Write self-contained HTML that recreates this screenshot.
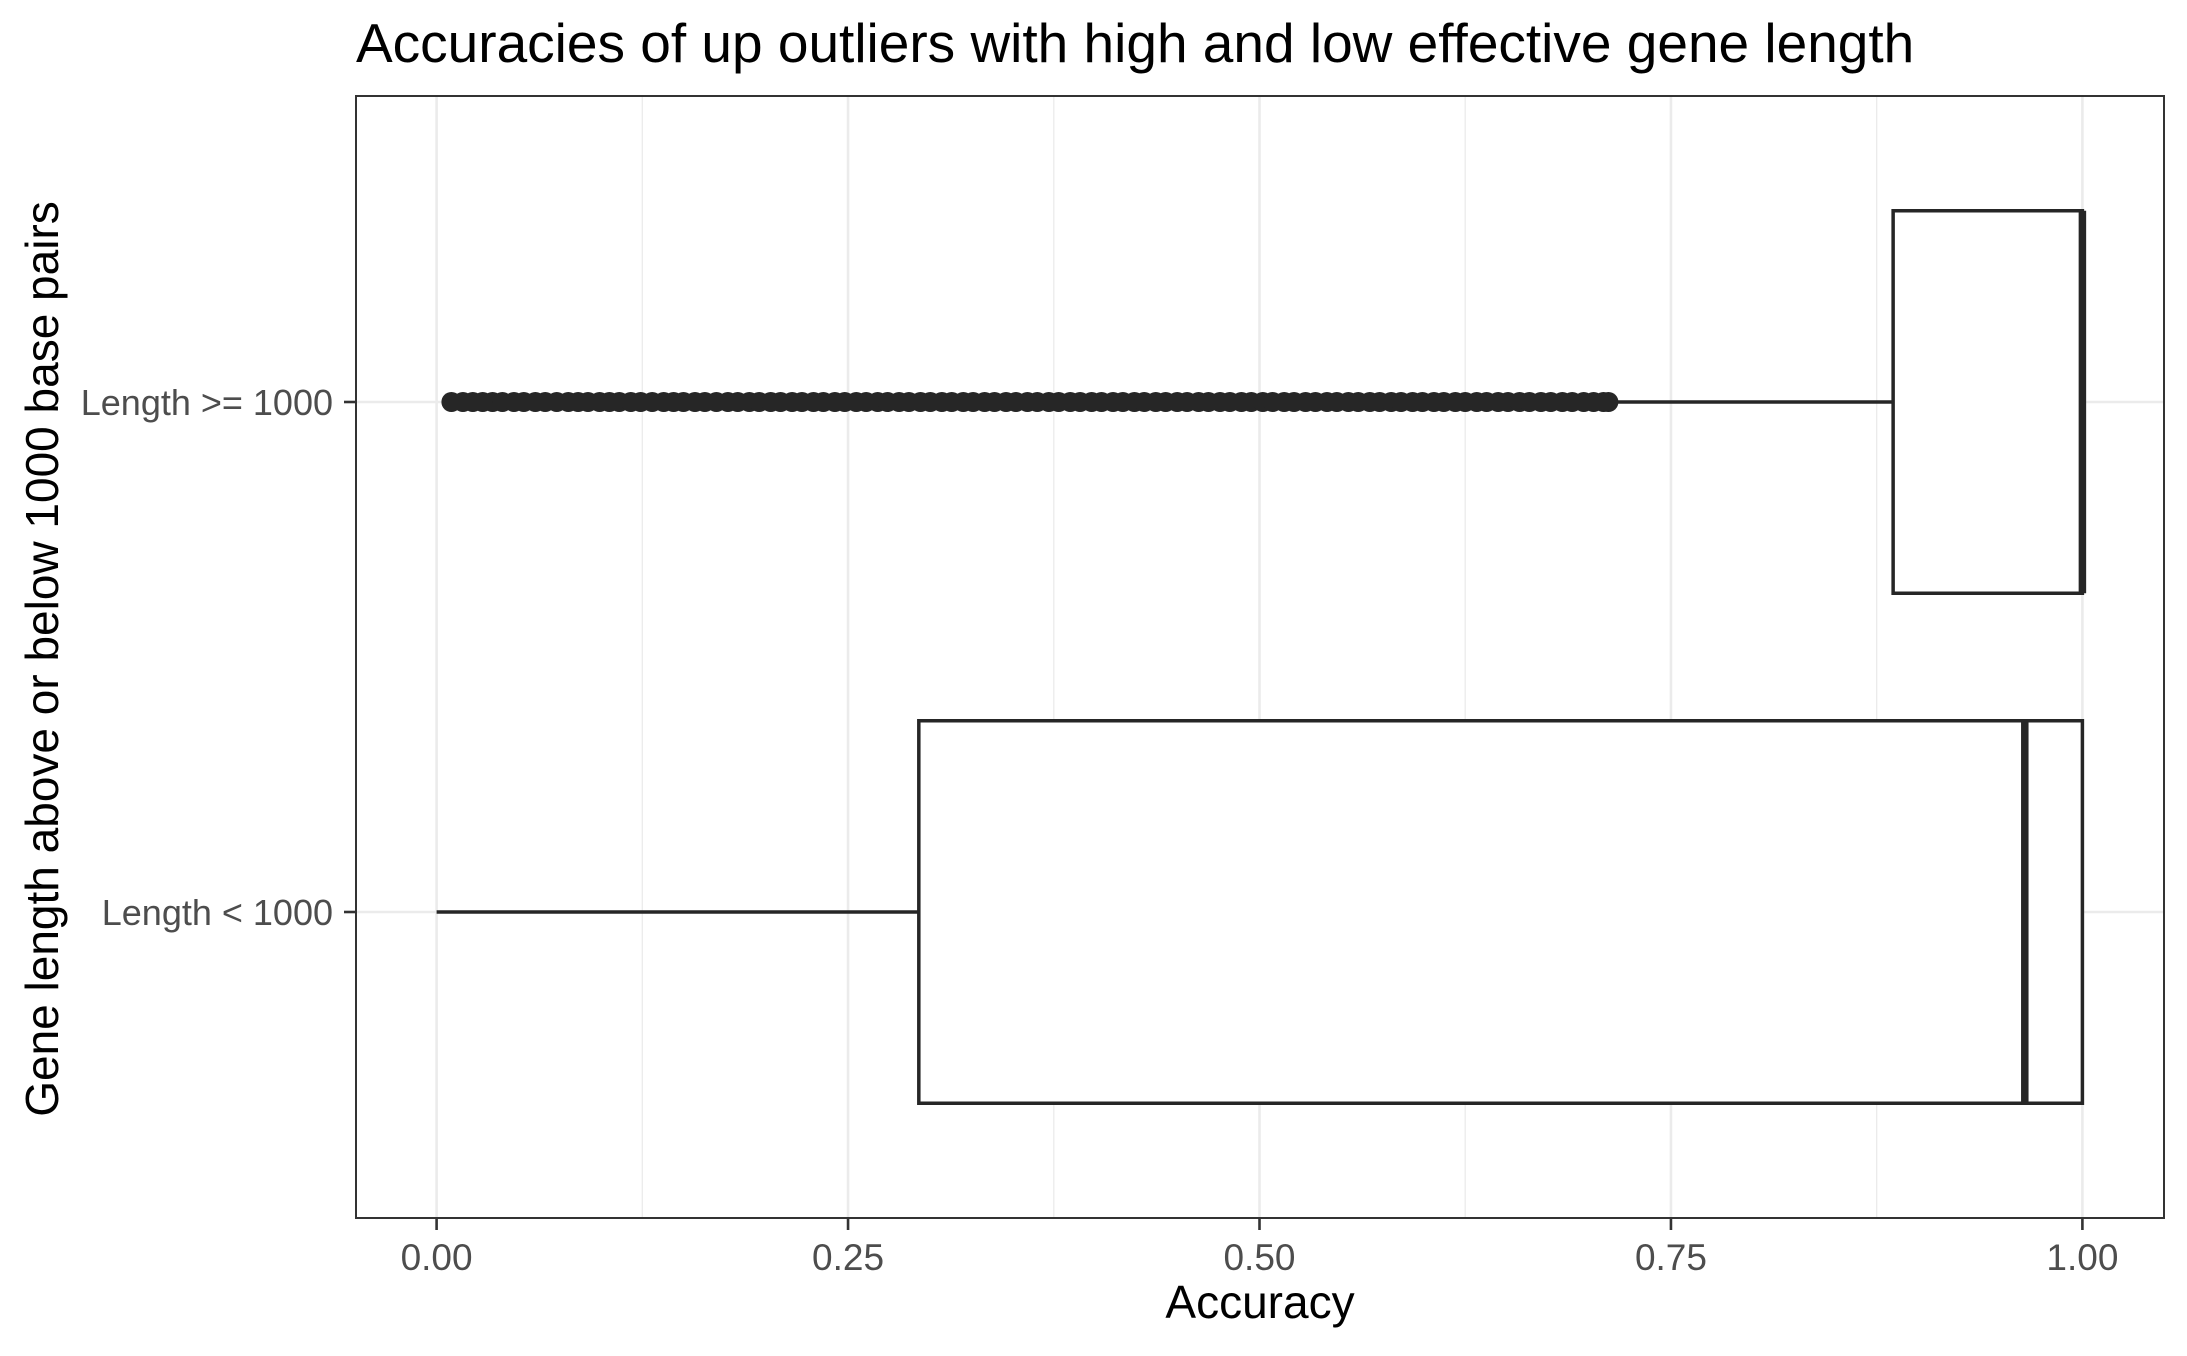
<!DOCTYPE html>
<html><head><meta charset="utf-8"><style>
html,body{margin:0;padding:0;background:#fff;}
svg text{font-family:"Liberation Sans",Arial,sans-serif;}
</style></head><body>
<svg id="chart" width="2187" height="1351" xmlns="http://www.w3.org/2000/svg">
<text x="356" y="62" font-size="55" fill="#000">Accuracies of up outliers with high and low effective gene length</text>
<rect x="356" y="96" width="1808" height="1122" fill="#fff"/>
<g id="grid"></g>
<g id="marks"></g>
<rect x="356" y="96" width="1808" height="1122" fill="none" stroke="#333" stroke-width="2"/>
<g id="axes"></g>
<text x="1260" y="1318" font-size="46" text-anchor="middle" fill="#000">Accuracy</text>
<text transform="translate(58,659) rotate(-90)" font-size="46" text-anchor="middle" fill="#000">Gene length above or below 1000 base pairs</text>
</svg>
<script>
const categories = ["Length < 1000", "Length >= 1000"];
const lowerWhisker = [0.0, 0.716];
const q1 = [0.293, 0.885];
const median = [0.965, 1.0];
const q3 = [1.0, 1.0];
const upperWhisker = [1.0, 1.0];
const xTicks = [0, 0.25, 0.5, 0.75, 1.0];
const xTickLabels = ["0.00", "0.25", "0.50", "0.75", "1.00"];
const outliersHigh = [0.009,0.016,0.022,0.028,0.034,0.040,0.047,0.053,0.060,0.066,0.073,0.080,0.086,0.092,0.099,0.105,0.111,0.118,0.124,0.131,0.138,0.144,0.150,0.157,0.163,0.170,0.177,0.183,0.190,0.196,0.203,0.209,0.216,0.222,0.229,0.235,0.242,0.248,0.255,0.261,0.268,0.274,0.281,0.287,0.294,0.300,0.307,0.313,0.320,0.326,0.333,0.339,0.346,0.352,0.359,0.365,0.372,0.378,0.385,0.391,0.398,0.404,0.411,0.417,0.424,0.430,0.437,0.443,0.450,0.456,0.463,0.469,0.476,0.482,0.489,0.495,0.502,0.508,0.515,0.521,0.528,0.534,0.541,0.547,0.554,0.560,0.567,0.573,0.580,0.586,0.593,0.599,0.606,0.612,0.619,0.625,0.632,0.638,0.645,0.651,0.658,0.664,0.671,0.677,0.684,0.690,0.697,0.703,0.709,0.712];

const NS="http://www.w3.org/2000/svg";
const X0=436.6, XU=1645.8;
const x = v => X0 + v*XU;
const PB=1218, YU=510;
function yc(i){ return PB - ((i+1) - 0.4)*YU; }
const HALF = 0.375*YU;
function mk(tag, attrs, parent){ const e=document.createElementNS(NS,tag); for(const k in attrs) e.setAttribute(k,attrs[k]); parent.appendChild(e); return e; }
const grid=document.getElementById('grid'), marks=document.getElementById('marks'), axes=document.getElementById('axes');

for(let i=0;i<xTicks.length-1;i++){
  const m=(xTicks[i]+xTicks[i+1])/2;
  const g=mk('line',{x1:x(m),x2:x(m),y1:96,y2:1218,stroke:'#ebebeb','stroke-width':1.3},grid);
  
  
}
xTicks.forEach((t,i)=>{
  const g=mk('line',{x1:x(t),x2:x(t),y1:96,y2:1218,stroke:'#ebebeb','stroke-width':2.6},grid);
  
  
  const tk=mk('line',{x1:x(t),x2:x(t),y1:1218,y2:1230,stroke:'#333','stroke-width':2.6},axes);
  
  
  const lb=mk('text',{x:x(t),y:1270,'font-size':37,'text-anchor':'middle',fill:'#4d4d4d'},axes);
  lb.textContent=xTickLabels[i];
  
  
});
categories.forEach((c,i)=>{
  const cy=yc(i);
  const g=mk('line',{x1:356,x2:2164,y1:cy,y2:cy,stroke:'#ebebeb','stroke-width':2.6},grid);
  
  
  const tk=mk('line',{x1:344,x2:356,y1:cy,y2:cy,stroke:'#333','stroke-width':2.6},axes);
  
  
  const lb=mk('text',{x:333,y:cy+13,'font-size':36,'text-anchor':'end',fill:'#4d4d4d'},axes);
  lb.textContent=c;
  
  

  const w1=mk('line',{x1:x(lowerWhisker[i]),x2:x(q1[i]),y1:cy,y2:cy,stroke:'#262626','stroke-width':3.5},marks);
  
  
  const w2=mk('line',{x1:x(q3[i]),x2:x(upperWhisker[i]),y1:cy,y2:cy,stroke:'#262626','stroke-width':3.5},marks);
  
  
  const b=mk('rect',{x:x(q1[i]),y:cy-HALF,width:x(q3[i])-x(q1[i]),height:2*HALF,fill:'#fff',stroke:'#262626','stroke-width':3.5},marks);
  
  
  const md=mk('line',{x1:x(median[i]),x2:x(median[i]),y1:cy-HALF,y2:cy+HALF,stroke:'#262626','stroke-width':7.5},marks);
  
  
});
outliersHigh.forEach(v=>{
  const p=mk('circle',{cx:x(v),cy:yc(1),r:10,fill:'#262626'},marks);
  
  
});
</script>
</body></html>
